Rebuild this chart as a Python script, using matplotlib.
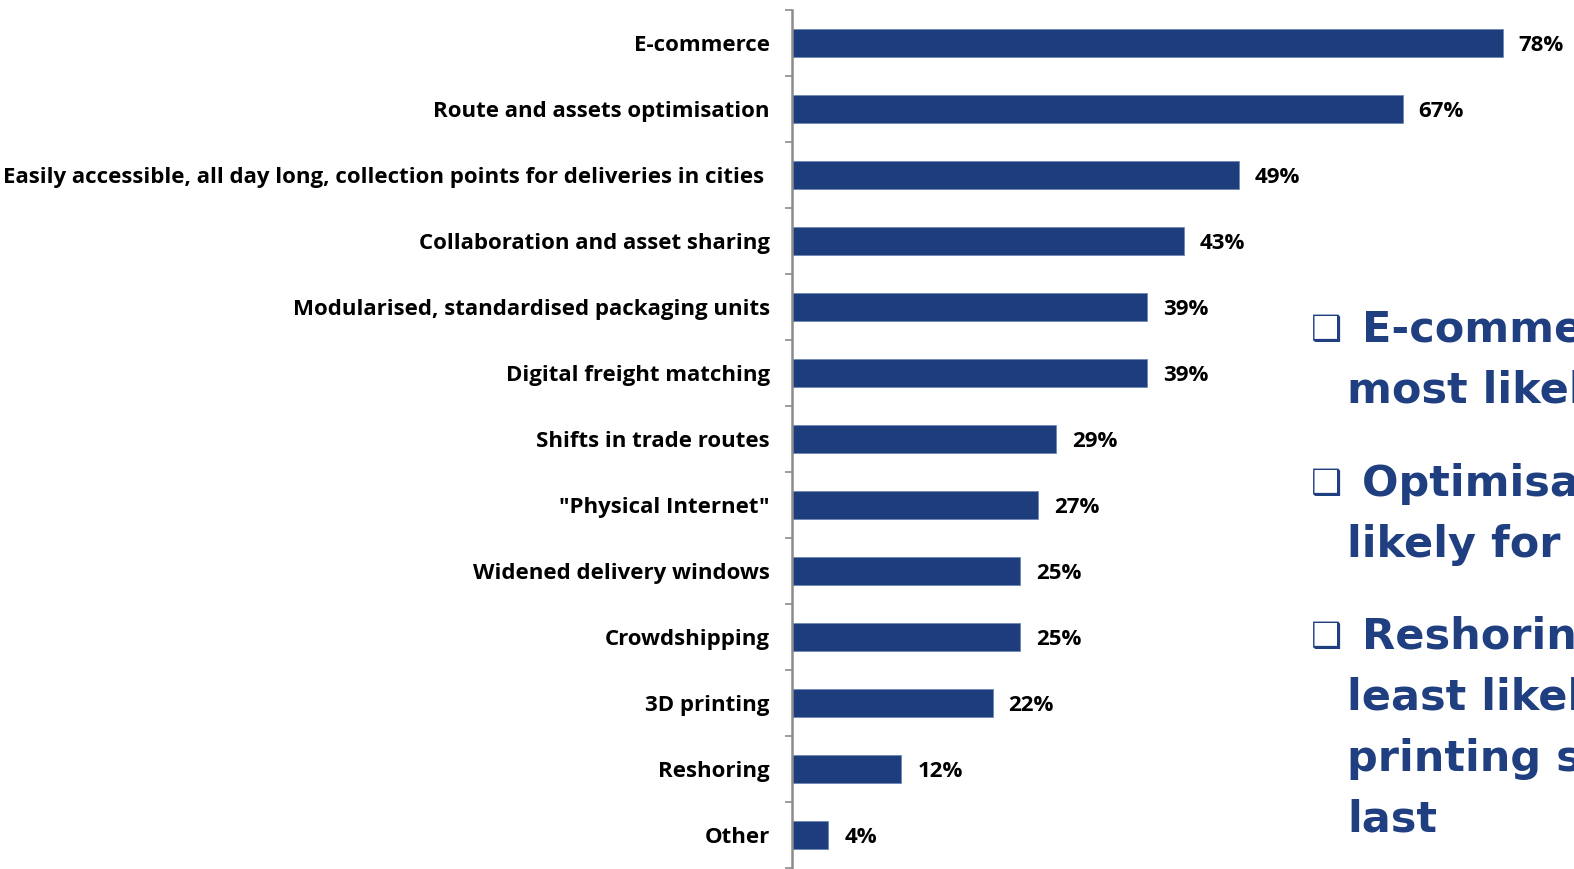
import matplotlib
matplotlib.use("Agg")
import matplotlib.pyplot as plt
import numpy as np

# Survey results: share of respondents per trend
categories = [
    "E-commerce",
    "Route and assets optimisation",
    "Easily accessible, all day long, collection points for deliveries in cities ",
    "Collaboration and asset sharing",
    "Modularised, standardised packaging units",
    "Digital freight matching",
    "Shifts in trade routes",
    "\"Physical Internet\"",
    "Widened delivery windows",
    "Crowdshipping",
    "3D printing",
    "Reshoring",
    "Other",
]
values = [78, 67, 49, 43, 39, 39, 29, 27, 25, 25, 22, 12, 4]

# Side notes (first line carries the bullet)
notes = [
    ["E-commerce is the", "most likely driver"],
    ["Optimisation is", "likely for many"],
    ["Reshoring is", "least likely, 3D", "printing second", "last"],
]

bar_color = "#1D3D7D"
note_color = "#1F3F80"
label_font = "Open Sans"

W, H = 1574, 869
fig = plt.figure(figsize=(W / 100, H / 100), dpi=100)
ax = fig.add_axes([792 / W, 1 / H, (W - 792) / W, (868 - 10) / H])

y = np.arange(len(categories))
ax.barh(y, values, height=0.42, color=bar_color, edgecolor="#6F86B5", linewidth=0.6)
ax.set_ylim(len(categories) - 0.5, -0.5)
ax.set_xlim(0, 85.8)

for yi, v in zip(y, values):
    ax.text(v + 1.75, yi, f"{v}%", va="center_baseline", ha="left", fontsize=16,
            fontweight="bold", family=label_font, color="black")

ax.set_yticks(y)
ax.set_yticklabels(categories, fontsize=16, fontweight="bold", family=label_font,
                   va="center_baseline")
ax.tick_params(axis="y", which="major", length=0, pad=16)
ax.set_yticks(np.arange(len(categories) + 1) - 0.5, minor=True)
ax.tick_params(axis="y", which="minor", length=5, width=1.2, color="#8C8C8C")
ax.set_xticks([])

for s in ["top", "right", "bottom"]:
    ax.spines[s].set_visible(False)
ax.spines["left"].set_color("#8C8C8C")
ax.spines["left"].set_linewidth(1.8)

# Bulleted notes at the right edge, clipped by the figure border
line_px = 61
starts = [330, 484, 637]
for lines, y0 in zip(notes, starts):
    fig.text(1311 / W, 1 - y0 / H, "\u2751", fontsize=25, color=note_color,
             va="center", ha="left", family="DejaVu Sans", fontweight="bold")
    for i, line in enumerate(lines):
        x0 = 1362 if i == 0 else 1347
        fig.text(x0 / W, 1 - (y0 + i * line_px) / H, line, fontsize=31,
                 fontweight="bold", color=note_color, va="center", ha="left",
                 family="DejaVu Sans")

fig.savefig("out.png", dpi=100)
